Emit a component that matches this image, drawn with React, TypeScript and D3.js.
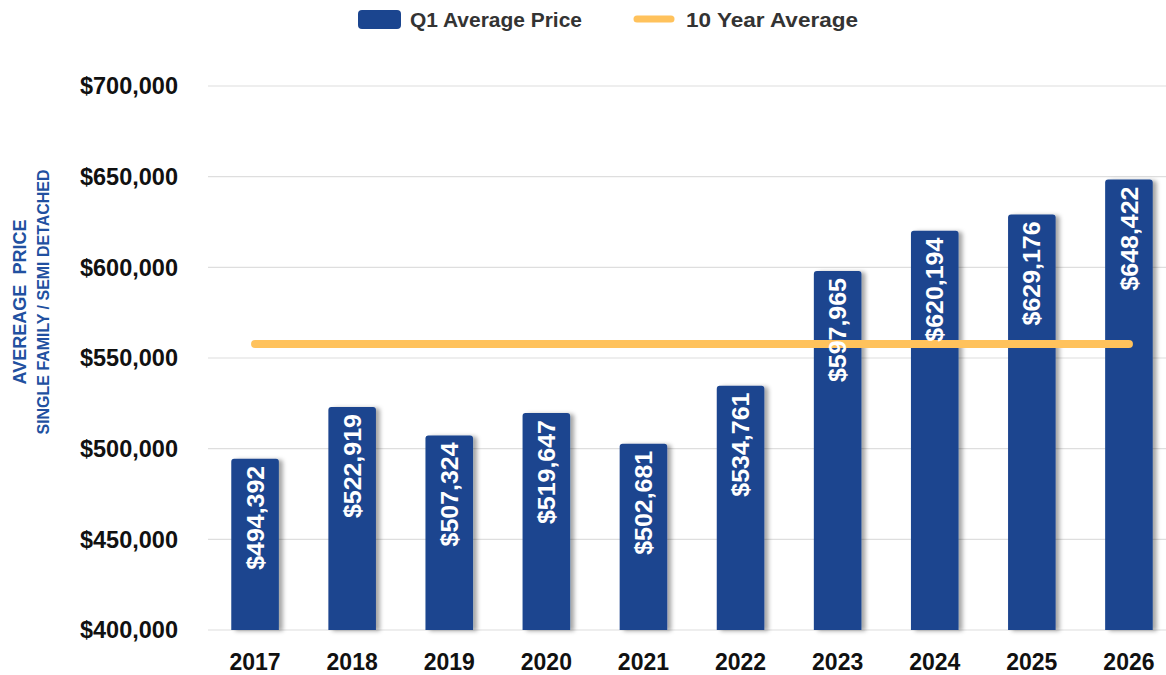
import React from 'react';
import * as d3 from 'd3';

const years = ['2017', '2018', '2019', '2020', '2021', '2022', '2023', '2024', '2025', '2026'];
const prices = [494392, 522919, 507324, 519647, 502681, 534761, 597965, 620194, 629176, 648422];
const tenYearAverage = 557748;
const yTicks = [400000, 450000, 500000, 550000, 600000, 650000, 700000];

const width = 1166;
const height = 675;
const barColor = '#1b458f';
const avgColor = '#ffc25c';
const titleColor = '#2150a0';
const font = '"Liberation Sans", Arial, sans-serif';

const App = () => {
    const x = d3.scaleBand<string>().domain(years).range([207, 1177]).paddingInner(0.51).paddingOuter(0.25);
    const y = d3.scaleLinear().domain([400000, 700000]).range([630, 86]);
    const fmt = (v: number) => '$' + d3.format(',')(v);

    // bar with rounded top corners only
    const barPath = (x0: number, y0: number, w: number, h: number, r: number) =>
        `M${x0},${y0 + h}V${y0 + r}Q${x0},${y0} ${x0 + r},${y0}H${x0 + w - r}Q${x0 + w},${y0} ${x0 + w},${y0 + r}V${y0 + h}Z`;

    const firstC = x(years[0])! + x.bandwidth() / 2;
    const lastC = x(years[years.length - 1])! + x.bandwidth() / 2;

    return (
        <svg width={width} height={height} style={{ position: 'absolute', left: 0, top: 0, background: '#fff' }} fontFamily={font}>
            <defs>
                <filter id="shadow" x="-30%" y="-10%" width="160%" height="120%">
                    <feDropShadow dx="4" dy="1" stdDeviation="2" floodColor="#000" floodOpacity="0.35" />
                </filter>
            </defs>

            {/* legend */}
            <rect x={358} y={10} width={43} height={19} rx={4} fill={barColor} />
            <text x={410} y={26.5} fontSize={20} fontWeight="bold" fill="#333" textLength={172} lengthAdjust="spacingAndGlyphs">Q1 Average Price</text>
            <line x1={637} x2={671} y1={19} y2={19} stroke={avgColor} strokeWidth={7} strokeLinecap="round" />
            <text x={686} y={26.5} fontSize={20} fontWeight="bold" fill="#333" textLength={172} lengthAdjust="spacingAndGlyphs">10 Year Average</text>

            {/* grid + y axis */}
            {yTicks.map((t) => (
                <g key={t}>
                    <line x1={208} x2={width} y1={y(t)} y2={y(t)} stroke="#dedede" strokeWidth={1.2} />
                    <text x={178} y={y(t)} dy="0.36em" textAnchor="end" fontSize={23.5} fontWeight="bold" fill="#111">{fmt(t)}</text>
                </g>
            ))}

            <text transform="translate(26,302) rotate(-90)" textAnchor="middle" fontSize={19} fontWeight="bold" fill={titleColor} xmlSpace="preserve" textLength={165} lengthAdjust="spacingAndGlyphs">AVEREAGE  PRICE</text>
            <text transform="translate(48.5,302) rotate(-90)" textAnchor="middle" fontSize={16} fontWeight="bold" fill={titleColor} textLength={265} lengthAdjust="spacingAndGlyphs">SINGLE FAMILY / SEMI DETACHED</text>

            {/* bars */}
            {prices.map((v, i) => {
                const bx = x(years[i])!;
                const by = y(v);
                return (
                    <path key={years[i]} d={barPath(bx, by, x.bandwidth(), y(400000) - by, 3)} fill={barColor} filter="url(#shadow)" />
                );
            })}

            {/* 10 year average */}
            <line x1={firstC} x2={lastC} y1={y(tenYearAverage)} y2={y(tenYearAverage)} stroke={avgColor} strokeWidth={8} strokeLinecap="round" />

            {/* value labels inside bars */}
            {prices.map((v, i) => {
                const cx = x(years[i])! + x.bandwidth() / 2;
                const ty = y(v) + 7;
                return (
                    <text key={'l' + years[i]} transform={`translate(${cx},${ty}) rotate(-90)`} textAnchor="end" dy="0.36em" fontSize={24} fontWeight="bold" fill="#fff" textLength={104} lengthAdjust="spacingAndGlyphs">{fmt(v)}</text>
                );
            })}

            {/* x axis labels */}
            {years.map((yr) => (
                <text key={yr} x={x(yr)! + x.bandwidth() / 2} y={670} textAnchor="middle" fontSize={23} fontWeight="bold" fill="#111">{yr}</text>
            ))}
        </svg>
    );
};

export default App;
